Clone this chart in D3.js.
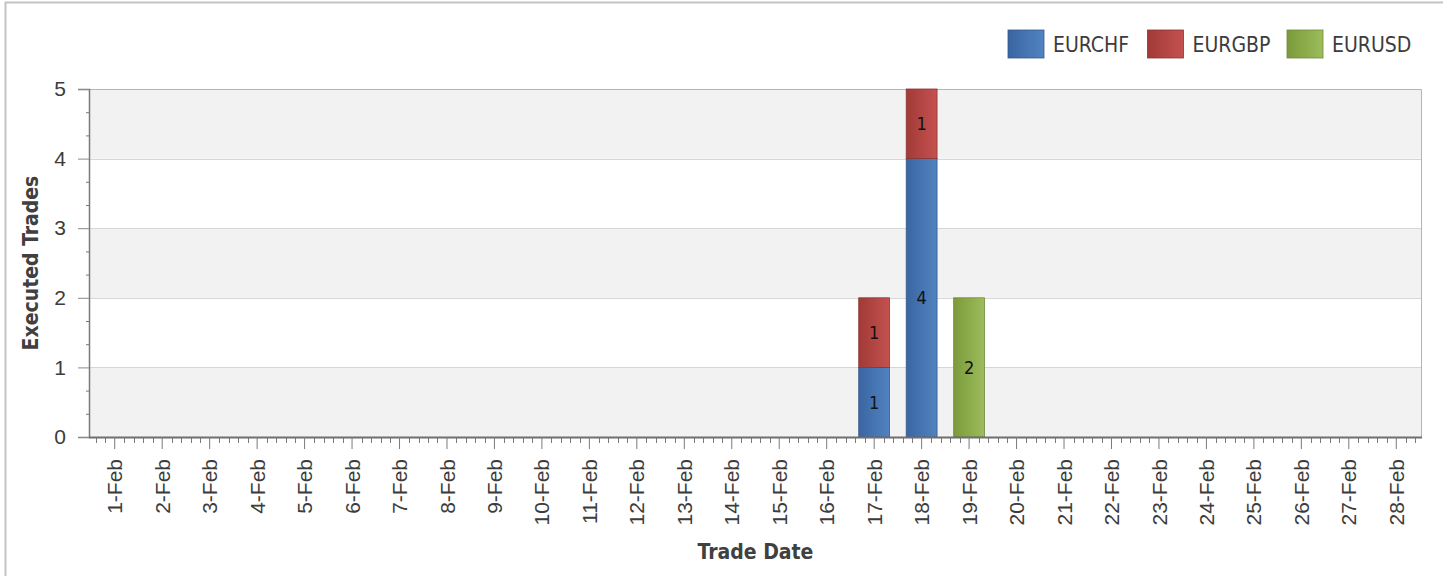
<!DOCTYPE html>
<html>
<head>
<meta charset="utf-8">
<script src="https://cdn.jsdelivr.net/npm/d3@7"></script>
<style>
  body { margin: 0; background: #fff; }
  svg { display: block; font-family: "DejaVu Sans Condensed", "DejaVu Sans", sans-serif; font-stretch: condensed; }
</style>
</head>
<body>
<svg id="chart" width="1443" height="576"></svg>
<script>
const dates = ["1-Feb", "2-Feb", "3-Feb", "4-Feb", "5-Feb", "6-Feb", "7-Feb",
  "8-Feb", "9-Feb", "10-Feb", "11-Feb", "12-Feb", "13-Feb", "14-Feb",
  "15-Feb", "16-Feb", "17-Feb", "18-Feb", "19-Feb", "20-Feb", "21-Feb",
  "22-Feb", "23-Feb", "24-Feb", "25-Feb", "26-Feb", "27-Feb", "28-Feb"];

const seriesNames = ["EURCHF", "EURGBP", "EURUSD"];

const eurchf = [0, 0, 0, 0, 0, 0, 0, 0, 0, 0, 0, 0, 0, 0, 0, 0, 1, 4, 0, 0, 0, 0, 0, 0, 0, 0, 0, 0];
const eurgbp = [0, 0, 0, 0, 0, 0, 0, 0, 0, 0, 0, 0, 0, 0, 0, 0, 1, 1, 0, 0, 0, 0, 0, 0, 0, 0, 0, 0];
const eurusd = [0, 0, 0, 0, 0, 0, 0, 0, 0, 0, 0, 0, 0, 0, 0, 0, 0, 0, 2, 0, 0, 0, 0, 0, 0, 0, 0, 0];

const yTicks = [0, 1, 2, 3, 4, 5];

// colours: [dark left, light right, border]
const palette = {
  EURCHF: ["#3a66a3", "#5083c0", "#35598a"],
  EURGBP: ["#a13a37", "#c4524f", "#8a3533"],
  EURUSD: ["#7a9a3c", "#9dbd5b", "#6f8a3b"],
};

const width = 1443, height = 576;
const plot = { left: 89, right: 1422, top: 89, bottom: 437 };

const svg = d3.select("#chart");

// gradients
const defs = svg.append("defs");
seriesNames.forEach((name) => {
  const g = defs.append("linearGradient")
    .attr("id", "grad-" + name)
    .attr("x1", "0%").attr("x2", "100%").attr("y1", "0%").attr("y2", "0%");
  g.append("stop").attr("offset", "0%").attr("stop-color", palette[name][0]);
  g.append("stop").attr("offset", "100%").attr("stop-color", palette[name][1]);
});

// outer frame
svg.append("path")
  .attr("d", `M5.5,${height} V2.5 H${width}`)
  .attr("fill", "none")
  .attr("stroke", "#c3c3c3")
  .attr("stroke-width", 2);

const table = dates.map((d, i) => ({
  date: d, EURCHF: eurchf[i], EURGBP: eurgbp[i], EURUSD: eurusd[i],
}));
const stacked = d3.stack().keys(seriesNames)(table);

const x = d3.scaleBand()
  .domain(dates)
  .range([plot.left + 2, plot.right - 2])
  .paddingInner(0.35)
  .paddingOuter(0.175);

const y = d3.scaleLinear()
  .domain([0, 5])
  .range([plot.bottom, plot.top]);

// plot background and alternating bands
svg.append("rect")
  .attr("x", plot.left).attr("y", plot.top)
  .attr("width", plot.right - plot.left).attr("height", plot.bottom - plot.top)
  .attr("fill", "#fff");

svg.append("g")
  .selectAll("rect")
  .data(yTicks.slice(0, -1).filter((t) => t % 2 === 0))
  .join("rect")
  .attr("x", plot.left)
  .attr("width", plot.right - plot.left)
  .attr("y", (t) => y(t + 1))
  .attr("height", (t) => y(t) - y(t + 1))
  .attr("fill", "#f2f2f2");

// grid lines
svg.append("g")
  .selectAll("line")
  .data(yTicks.slice(1, -1))
  .join("line")
  .attr("x1", plot.left).attr("x2", plot.right)
  .attr("y1", (t) => Math.round(y(t)) + 0.5).attr("y2", (t) => Math.round(y(t)) + 0.5)
  .attr("stroke", "#d6d6d6");

// top / right frame of plot
svg.append("path")
  .attr("d", `M${plot.left},${plot.top + 0.5} H${plot.right - 0.5} V${plot.bottom}`)
  .attr("fill", "none")
  .attr("stroke", "#b4b4b4");

// bars
const layers = svg.append("g")
  .selectAll("g")
  .data(stacked)
  .join("g")
  .attr("fill", (s) => `url(#grad-${s.key})`)
  .attr("stroke", (s) => palette[s.key][2]);

layers.selectAll("rect")
  .data((s) => s.filter((d) => d[1] - d[0] > 0))
  .join("rect")
  .attr("x", (d) => x(d.data.date))
  .attr("width", x.bandwidth())
  .attr("y", (d) => y(d[1]))
  .attr("height", (d) => y(d[0]) - y(d[1]))
  .attr("stroke-width", 0.8);

// bar labels
layers.selectAll("text")
  .data((s) => s.filter((d) => d[1] - d[0] > 0))
  .join("text")
  .attr("x", (d) => x(d.data.date) + x.bandwidth() / 2)
  .attr("y", (d) => y((d[0] + d[1]) / 2))
  .attr("dy", "0.36em")
  .attr("text-anchor", "middle")
  .attr("fill", "#111")
  .attr("stroke", "none")
  .attr("font-size", 18)
  .text((d) => d[1] - d[0]);

// y axis minor ticks (thirds)
svg.append("g")
  .attr("transform", `translate(${plot.left},0)`)
  .call(d3.axisLeft(y)
    .tickValues(d3.range(0, 15).map((i) => i / 3).filter((v) => !yTicks.includes(v) && v % 1 !== 0))
    .tickSize(3).tickFormat(""))
  .call((g) => g.select(".domain").remove())
  .call((g) => g.selectAll("line").attr("stroke", "#7a7a7a"));

// y axis
svg.append("g")
  .attr("transform", `translate(${plot.left},0)`)
  .call(d3.axisLeft(y).tickValues(yTicks).tickSize(11).tickPadding(12).tickFormat(d3.format("d")))
  .call((g) => g.select(".domain").attr("stroke", "#7a7a7a").attr("stroke-width", 1.5))
  .call((g) => g.selectAll(".tick line").attr("stroke", "#8a8a8a"))
  .call((g) => g.selectAll("text").attr("font-size", 21).attr("fill", "#3c3c3c"));

// x axis minor ticks (fifths of a category step)
const step = x.step();
const first = x(dates[0]) + x.bandwidth() / 2;
const minor = d3.range(-2, dates.length * 5 + 1)
  .filter((k) => k % 5 !== 0)
  .map((k) => first + (k * step) / 5)
  .filter((v) => v > plot.left && v < plot.right);

svg.append("g")
  .selectAll("line")
  .data(minor)
  .join("line")
  .attr("x1", (v) => Math.round(v) + 0.5).attr("x2", (v) => Math.round(v) + 0.5)
  .attr("y1", plot.bottom).attr("y2", plot.bottom + 6)
  .attr("stroke", "#7a7a7a");

// x axis
svg.append("g")
  .attr("transform", `translate(0,${plot.bottom})`)
  .call(d3.axisBottom(x).tickSize(12).tickSizeOuter(0))
  .call((g) => g.select(".domain")
    .attr("d", `M${plot.left},0.5H${plot.right}`)
    .attr("stroke", "#6e6e6e").attr("stroke-width", 2))
  .call((g) => g.selectAll(".tick line").attr("stroke", "#7a7a7a"))
  .call((g) => g.selectAll("text")
    .attr("transform", "rotate(-90)")
    .attr("text-anchor", "end")
    .attr("x", -22)
    .attr("y", 0)
    .attr("dy", "0.36em")
    .attr("font-size", 21)
    .attr("fill", "#3c3c3c"));

// axis titles
svg.append("text")
  .attr("x", (plot.left + plot.right) / 2)
  .attr("y", 559)
  .attr("text-anchor", "middle")
  .attr("font-size", 21)
  .attr("font-weight", "bold")
  .attr("fill", "#404040")
  .text("Trade Date");

svg.append("text")
  .attr("transform", `translate(38,${(plot.top + plot.bottom) / 2}) rotate(-90)`)
  .attr("text-anchor", "middle")
  .attr("font-size", 21)
  .attr("font-weight", "bold")
  .attr("fill", "#404040")
  .text("Executed Trades");

// legend
const legend = svg.append("g")
  .selectAll("g")
  .data(seriesNames)
  .join("g")
  .attr("transform", (d, i) => `translate(${1008 + i * 139.5},30)`);

legend.append("rect")
  .attr("width", 36).attr("height", 28)
  .attr("fill", (d) => `url(#grad-${d})`)
  .attr("stroke", (d) => palette[d][2])
  .attr("stroke-width", 0.8);

legend.append("text")
  .attr("x", 45).attr("y", 14)
  .attr("dy", "0.36em")
  .attr("font-size", 21)
  .attr("fill", "#3c3c3c")
  .text((d) => d);
</script>
</body>
</html>
